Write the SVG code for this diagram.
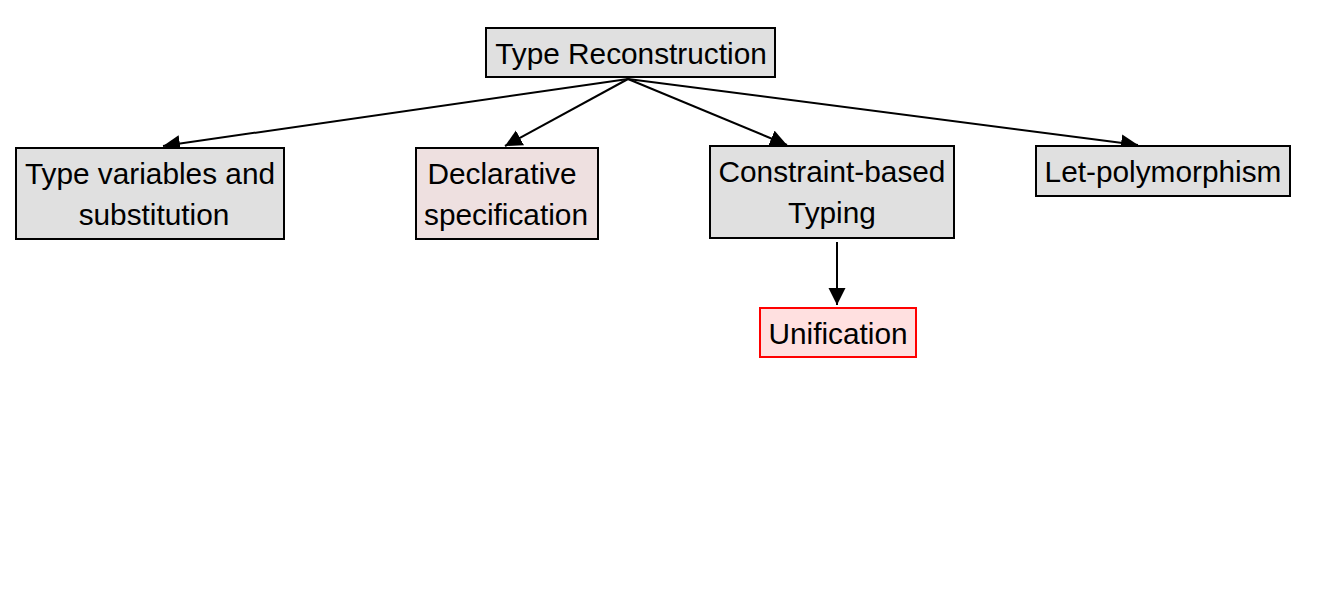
<svg xmlns="http://www.w3.org/2000/svg" width="1324" height="604" viewBox="0 0 1324 604">
<defs>
<marker id="arr" markerUnits="userSpaceOnUse" markerWidth="18" markerHeight="18" refX="17" refY="8.5" orient="auto">
<path d="M0,0 L17,8.5 L0,17 z" fill="#000"/>
</marker>
<style>
.box{fill:#e0e0e0;stroke:#000;stroke-width:2}
.pink{fill:#eee0e0;stroke:#000;stroke-width:2}
.red{fill:#ffe0e0;stroke:#ff0000;stroke-width:2}
text{font-family:"Liberation Sans",Arial,Helvetica,sans-serif;font-size:29.8px;fill:#000;text-anchor:middle}
.edge{stroke:#000;stroke-width:2;fill:none;marker-end:url(#arr)}
</style>
</defs>
<rect width="1324" height="604" fill="#fff"/>
<g id="connectors">
<path class="edge" d="M628,79 L163,146"/>
<path class="edge" d="M628,79 L505,146"/>
<path class="edge" d="M628,79 L787,145"/>
<path class="edge" d="M628,79 L1138,145"/>
<path class="edge" d="M837,242 L837,305"/>
</g>
<g id="type-reconstruction">
<rect class="box" x="486" y="28" width="289" height="49"/>
<text x="631" y="64">Type Reconstruction</text>
</g>
<g id="type-variables">
<rect class="box" x="16" y="148" width="268" height="91"/>
<text x="150" y="184">Type variables and</text>
<text x="154" y="225">substitution</text>
</g>
<g id="declarative">
<rect class="pink" x="416" y="148" width="182" height="91"/>
<text x="502" y="184">Declarative</text>
<text x="506" y="225">specification</text>
</g>
<g id="constraint-based">
<rect class="box" x="710" y="146" width="244" height="92"/>
<text x="832" y="182">Constraint-based</text>
<text x="832" y="223">Typing</text>
</g>
<g id="let-polymorphism">
<rect class="box" x="1036" y="146" width="254" height="50"/>
<text x="1163" y="181.5">Let-polymorphism</text>
</g>
<g id="unification">
<rect class="red" x="760" y="308" width="156" height="49"/>
<text x="838" y="343.5">Unification</text>
</g>
</svg>
